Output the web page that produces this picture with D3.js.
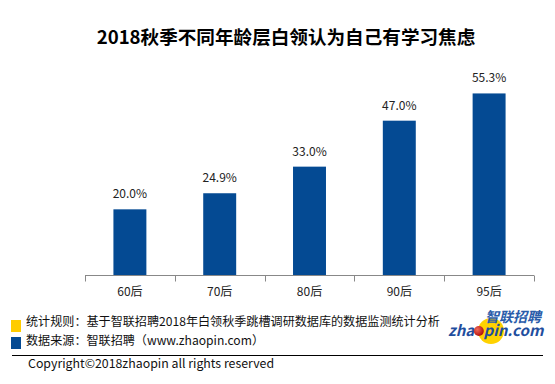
<!DOCTYPE html>
<html>
<head>
<meta charset="utf-8">
<script src="https://cdn.jsdelivr.net/npm/d3@7"></script>
<style>
  body { margin: 0; background: #fff; }
  text { font-family: "Noto Sans CJK SC", "Noto Sans", sans-serif; }
</style>
</head>
<body>
<div id="chart"></div>
<script>
const title = '2018秋季不同年龄层白领认为自己有学习焦虑';
const categories = ['60后', '70后', '80后', '90后', '95后'];
const values = [20.0, 24.9, 33.0, 47.0, 55.3];
const notes = [
  { color: '#FFCC00', text: '统计规则：基于智联招聘2018年白领秋季跳槽调研数据库的数据监测统计分析' },
  { color: '#044A93', text: '数据来源：智联招聘（www.zhaopin.com）' },
];
const copyright = 'Copyright©2018zhaopin all rights reserved';

const W = 555, H = 384;
const blue = '#044A93';

const svg = d3.select('#chart').append('svg')
  .attr('width', W)
  .attr('height', H);

// title
svg.append('text')
  .attr('x', 286).attr('y', 44)
  .attr('text-anchor', 'middle')
  .attr('font-size', 18.6)
  .attr('font-weight', 'bold')
  .attr('fill', '#000')
  .text(title);

// scales
const x = d3.scaleBand().domain(categories).range([85, 534]);
const y = d3.scaleLinear().domain([0, 60]).range([275, 78]);
const barW = x.bandwidth() * 0.367;

const bars = svg.append('g');
bars.selectAll('rect').data(values).join('rect')
  .attr('x', (d, i) => x(categories[i]) + (x.bandwidth() - barW) / 2)
  .attr('y', d => y(d))
  .attr('width', barW)
  .attr('height', d => y(0) - y(d))
  .attr('fill', blue);

bars.selectAll('text').data(values).join('text')
  .attr('x', (d, i) => x(categories[i]) + x.bandwidth() / 2)
  .attr('y', d => y(d) - 11)
  .attr('text-anchor', 'middle')
  .attr('font-size', 12)
  .attr('fill', '#222')
  .text(d => d.toFixed(1) + '%');

// x axis
const axis = svg.append('g')
  .attr('transform', `translate(0,${y(0) + 0.5})`)
  .call(d3.axisBottom(x).tickSize(0).tickPadding(12));
axis.select('.domain').attr('stroke', '#888').attr('d', `M85,0H534`);
axis.selectAll('.tick text')
  .attr('font-size', 12)
  .attr('fill', '#222')
  .attr('font-family', '"Noto Sans CJK SC", sans-serif');
// separators between categories
const edges = categories.map(c => x(c)).concat([x.range()[1]]);
axis.selectAll('line.sep').data(edges).join('line')
  .attr('class', 'sep')
  .attr('x1', d => Math.round(d) + 0.5).attr('x2', d => Math.round(d) + 0.5)
  .attr('y1', 0).attr('y2', 6)
  .attr('stroke', '#888');

// footer notes
const foot = svg.append('g');
notes.forEach((n, i) => {
  foot.append('rect')
    .attr('x', 11).attr('y', 320 + i * 17)
    .attr('width', 10).attr('height', 12)
    .attr('fill', n.color);
  foot.append('text')
    .attr('x', 26).attr('y', 325.5 + i * 19)
    .attr('font-size', 12.1)
    .attr('fill', '#111')
    .text(n.text);
});

foot.append('line')
  .attr('x1', 12).attr('x2', 543)
  .attr('y1', 355.5).attr('y2', 355.5)
  .attr('stroke', '#000');

foot.append('text')
  .attr('x', 28).attr('y', 368)
  .attr('font-size', 12.35)
  .attr('fill', '#111')
  .text(copyright);

// logo
const logo = svg.append('g');
logo.append('circle')
  .attr('cx', 491).attr('cy', 331).attr('r', 13)
  .attr('fill', '#FFD200');
logo.append('text')
  .attr('x', 541).attr('y', 322)
  .attr('text-anchor', 'end')
  .attr('font-size', 14)
  .attr('font-weight', 'bold')
  .attr('font-style', 'italic')
  .attr('fill', '#2A5CAA')
  .text('智联招聘');
const word = logo.append('text')
  .attr('x', 448).attr('y', 336)
  .attr('font-family', '"Liberation Sans", Arial, sans-serif')
  .attr('font-size', 15)
  .attr('font-weight', 'bold')
  .attr('font-style', 'italic')
  .attr('fill', '#1F4E9E');
word.append('tspan').text('zha');
word.append('tspan').attr('fill-opacity', 0).text('o');
word.append('tspan').text('pin.com');
const grad = svg.append('defs').append('radialGradient')
  .attr('id', 'ball').attr('cx', '35%').attr('cy', '35%').attr('r', '65%');
grad.append('stop').attr('offset', '0%').attr('stop-color', '#F06A5A');
grad.append('stop').attr('offset', '100%').attr('stop-color', '#B5120E');
const node = word.node();
const ox = 448 + node.getSubStringLength(0, 3) + node.getSubStringLength(3, 1) / 2;
logo.append('circle')
  .attr('cx', ox).attr('cy', 331).attr('r', 5)
  .attr('fill', 'url(#ball)');
</script>
</body>
</html>
